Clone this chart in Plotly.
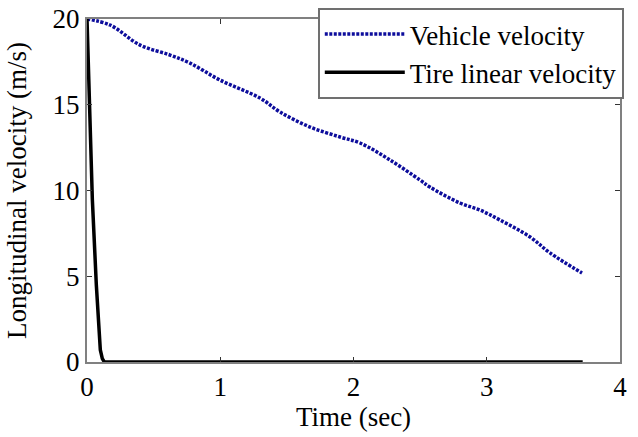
import plotly.graph_objects as go

veh_t = [0, 0.173, 0.398, 0.623, 0.773, 0.998, 1.298, 1.448, 1.674, 1.899, 2.049,
         2.274, 2.499, 2.574, 2.799, 2.949, 3.099, 3.325, 3.475, 3.715]
veh_v = [20, 19.65, 18.48, 17.90, 17.43, 16.44, 15.39, 14.58, 13.70, 13.12, 12.77,
         11.78, 10.61, 10.20, 9.27, 8.86, 8.28, 7.29, 6.36, 5.19]

tire_t = [0, 0.02, 0.04, 0.07, 0.09, 0.10, 0.115, 0.13, 3.72]
tire_v = [20, 15, 9.5, 4.5, 1.5, 0.7, 0.2, 0, 0]

x_ticks = [0, 1, 2, 3, 4]
y_ticks = [0, 5, 10, 15, 20]

font = "Liberation Serif, Times New Roman, serif"
fs = 27

fig = go.Figure()
fig.add_trace(go.Scatter(x=veh_t, y=veh_v, mode="lines", name="Vehicle velocity",
                         line=dict(color="#0d0d9c", width=3.5, dash="3px,1.5px", shape="spline"),
                         legendgroup="a"))
fig.add_trace(go.Scatter(x=tire_t, y=tire_v, mode="lines", name="Tire linear velocity",
                         line=dict(color="black", width=3.5),
                         legendgroup="b"))

axis_common = dict(showgrid=False, zeroline=False, showline=True, linecolor="#808080",
                   linewidth=2, mirror="ticks", ticks="inside", ticklen=5, tickcolor="#333",
                   automargin=False,
                   tickfont=dict(family=font, size=fs, color="black"))

fig.update_layout(
    width=638, height=437,
    margin=dict(l=87, r=18, t=19, b=75, autoexpand=False),
    paper_bgcolor="white", plot_bgcolor="white",
    font=dict(family=font, color="black"),
    xaxis=dict(range=[0, 4], tickvals=x_ticks,
               title=dict(text="Time (sec)", font=dict(family=font, size=fs), standoff=0),
               **axis_common),
    yaxis=dict(range=[0, 20], tickvals=y_ticks,
               title=dict(text="Longitudinal velocity (m/s)", font=dict(family=font, size=fs), standoff=18),
               **axis_common),
    legend=dict(x=0.433, y=1.032, xanchor="left", yanchor="top",
                bgcolor="white", bordercolor="#707070", borderwidth=2,
                font=dict(family=font, size=fs, color="black"),
                itemwidth=80, tracegroupgap=0, traceorder="grouped"),
    showlegend=True,
)

fig.write_html("out.html", config={"displayModeBar": False},
               post_script="document.body.style.margin='0';document.body.style.overflow='hidden';")
